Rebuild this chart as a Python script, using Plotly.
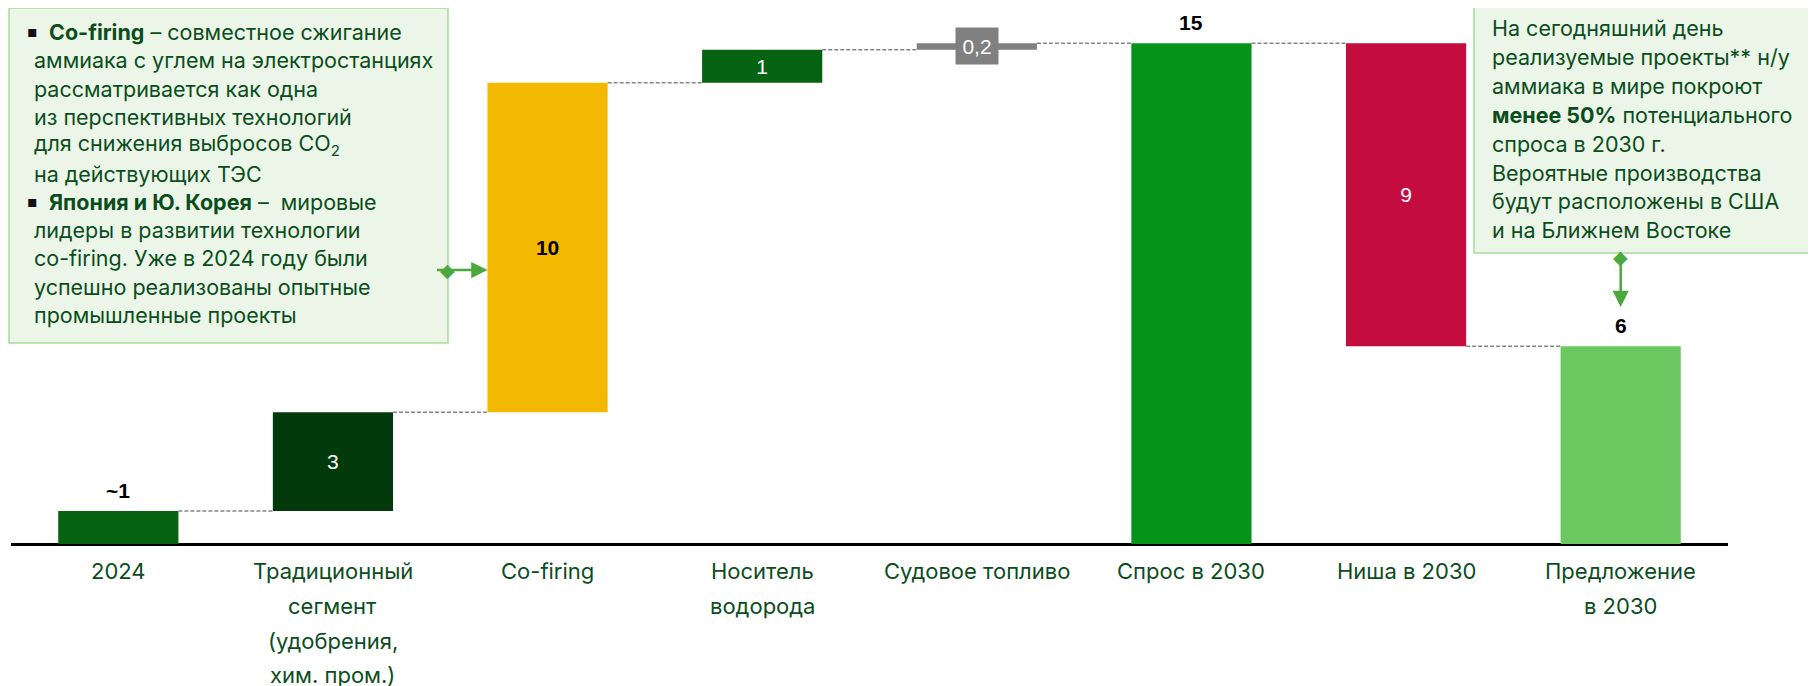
import plotly.graph_objects as go

# данные
categories = ["2024", "Традиционный<br>сегмент<br>(удобрения,<br>хим. пром.)", "Co-firing",
              "Носитель<br>водорода", "Судовое топливо", "Спрос в 2030", "Ниша в 2030",
              "Предложение<br>в 2030"]
values = [1, 3, 10, 1, 0.2, 15.2, -9.2, 6]
kinds = ["total", "delta", "delta", "delta", "delta", "total", "delta", "total"]
value_labels = ["~1", "3", "10", "1", "0,2", "15", "9", "6"]
colors = ["#066312", "#033a0b", "#f2b900", "#066312", "#808080", "#05931a", "#c40c3f", "#6bc860"]

# основание каждого столбика
bases, ends = [], []
level = 0
for v, k in zip(values, kinds):
    if k == "total":
        bases.append(0)
        level = v
    else:
        bases.append(level)
        level = level + v
    ends.append(level)

heights = [abs(v) for v in values]
bases = [b if v >= 0 else b + v for b, v in zip(bases, values)]

GREEN_TXT = "#0b4d1c"
FONT = "Inter"
W, H = 1816, 686
OFF = 8  # отступ body в странице
L, R, T, B = 3, 96, 2, 150
PW, PH = W - L - R, H - T - B
BW = 0.56

def px(x):
    return (x - OFF - L) / PW

def py(y):
    return (H - B - (y - OFF)) / PH

# где подпись: внутри столбика или над ним
label_mode = ["above", "inside", "inside", "inside", "box", "above", "inside", "above"]
text_col = ["black", "white", "black", "white", "white", "black", "white", "black"]
bold = [True, False, True, False, False, True, False, True]
bar_text = [(f"<b>{t}</b>" if b else t) if m == "inside" else ""
            for t, b, m in zip(value_labels, bold, label_mode)]

fig = go.Figure(go.Bar(
    x=list(range(len(categories))),
    y=heights,
    base=bases,
    width=BW,
    marker=dict(color=colors, line=dict(width=0)),
    text=bar_text,
    textposition="inside",
    textfont=dict(color=text_col, size=21, family="Liberation Sans"),
    insidetextanchor="middle",
    constraintext="none",
    cliponaxis=False,
    hoverinfo="skip",
))

shapes = []
# пунктирные соединители
for i in range(len(values) - 1):
    shapes.append(dict(type="line", xref="x", yref="y",
                       x0=i + BW / 2, x1=i + 1 - BW / 2, y0=ends[i], y1=ends[i],
                       line=dict(color="#858585", width=1.5, dash="4px,2px")))

# рамки с комментариями
shapes.append(dict(type="rect", xref="paper", yref="paper",
                   x0=px(9), x1=px(448), y0=py(8), y1=py(343),
                   fillcolor="#ebf6e8", line=dict(color="#a6dc9c", width=1.5), layer="below"))
shapes.append(dict(type="rect", xref="paper", yref="paper",
                   x0=px(1474), x1=px(1814), y0=py(5), y1=py(253),
                   fillcolor="#ebf6e8", line=dict(color="#a6dc9c", width=1.5), layer="below"))

annotations = []

# подписи над столбиками
for i, m in enumerate(label_mode):
    if m == "above":
        annotations.append(dict(x=i, y=bases[i] + heights[i], xref="x", yref="y",
                                text=f"<b>{value_labels[i]}</b>", showarrow=False,
                                yanchor="middle", yshift=21,
                                font=dict(family="Liberation Sans", size=21, color="black")))
    elif m == "box":
        annotations.append(dict(x=i, y=bases[i] + heights[i] / 2, xref="x", yref="y",
                                text=value_labels[i], showarrow=False, bgcolor="#808080",
                                width=40, height=34,
                                font=dict(family="Liberation Sans", size=21, color="white")))

# подписи категорий построчно
for i, c in enumerate(categories):
    for k, line in enumerate(c.split("<br>")):
        annotations.append(dict(x=i, y=0, xref="x", yref="paper", text=line, showarrow=False,
                                yanchor="middle", yshift=-(27 + 34.8 * k),
                                font=dict(family=FONT, size=22, color=GREEN_TXT)))

left_lines = [
    (True, "<b>Co-firing</b> – совместное сжигание"),
    (False, "аммиака с углем на электростанциях"),
    (False, "рассматривается как одна"),
    (False, "из перспективных технологий"),
    (False, "для снижения выбросов СО<sub>2</sub>"),
    (False, "на действующих ТЭС"),
    (True, "<b>Япония и Ю. Корея</b> –  мировые"),
    (False, "лидеры в развитии технологии"),
    (False, "co-firing. Уже в 2024 году были"),
    (False, "успешно реализованы опытные"),
    (False, "промышленные проекты"),
]
for k, (bul, line) in enumerate(left_lines):
    yy = 32 + 28.3 * k
    if bul:
        annotations.append(dict(x=px(25), y=py(yy), xref="paper", yref="paper", text="▪",
                                showarrow=False, xanchor="left", yanchor="middle",
                                font=dict(family="DejaVu Sans", size=16, color="#111111")))
    annotations.append(dict(x=px(47 if bul else 32), y=py(yy), xref="paper", yref="paper",
                            text=line, showarrow=False, xanchor="left", yanchor="middle",
                            font=dict(family=FONT, size=21.5, color=GREEN_TXT)))

right_lines = [
    "На сегодняшний день",
    "реализуемые проекты** н/у",
    "аммиака в мире покроют",
    "<b>менее 50%</b> потенциального",
    "спроса в 2030 г.",
    "Вероятные производства",
    "будут расположены в США",
    "и на Ближнем Востоке",
]
for k, line in enumerate(right_lines):
    annotations.append(dict(x=px(1490), y=py(28 + 28.9 * k), xref="paper", yref="paper",
                            text=line, showarrow=False, xanchor="left", yanchor="middle",
                            font=dict(family=FONT, size=21.5, color=GREEN_TXT)))

# стрелки
ARROW = "#4aa83c"
annotations.append(dict(x=2 - BW / 2, y=py(270), xref="x", yref="paper", ax=-52, ay=0,
                        text="", showarrow=True, arrowhead=2, arrowsize=1.3, arrowwidth=2.5,
                        arrowcolor=ARROW))
annotations.append(dict(x=px(447), y=py(270), xref="paper", yref="paper", text="◆",
                        showarrow=False, xanchor="center", yanchor="middle",
                        font=dict(size=19, color=ARROW, family="DejaVu Sans")))
annotations.append(dict(x=7, y=py(307), xref="x", yref="paper", ax=0, ay=-56,
                        text="", showarrow=True, arrowhead=2, arrowsize=1.3, arrowwidth=2.5,
                        arrowcolor=ARROW))
annotations.append(dict(x=7, y=py(257), xref="x", yref="paper", text="◆",
                        showarrow=False, xanchor="center", yanchor="middle",
                        font=dict(size=19, color=ARROW, family="DejaVu Sans")))

fig.update_layout(
    width=W, height=H,
    margin=dict(l=L, r=R, t=T, b=B),
    plot_bgcolor="white", paper_bgcolor="white",
    showlegend=False,
    shapes=shapes,
    annotations=annotations,
    xaxis=dict(range=[-0.5, len(categories) - 0.5], showticklabels=False, showgrid=False,
               zeroline=False, showline=False, fixedrange=True),
    yaxis=dict(range=[0, PH / 32.95], showticklabels=False, showgrid=False,
               zeroline=True, zerolinecolor="black", zerolinewidth=3, fixedrange=True),
)

fig.write_html("out.html")
